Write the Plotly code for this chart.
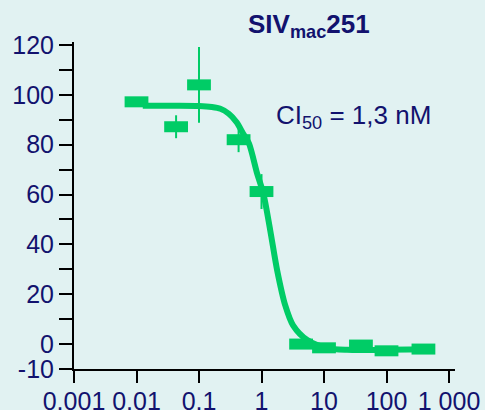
import plotly.graph_objects as go

# Measured data points (concentration nM, % infection)
conc = [0.01, 0.043, 0.1, 0.43, 1.0, 4.3, 10, 39, 100, 390]
resp = [97.2, 87.2, 104.0, 82.0, 61.2, 0.0, -1.5, -0.4, -2.7, -2.0]
err = [0, 4.6, 15.2, 5.0, 7.0, 0, 0, 0, 0, 0]

# Fitted curve
curve_conc = [0.0126, 0.04, 0.1, 0.16, 0.22, 0.30, 0.40, 0.51, 0.63, 0.85,
              1.07, 1.38, 1.78, 2.4, 3.2, 5.4, 11.2, 23.4, 100, 525]
curve_resp = [95.6, 95.6, 95.5, 95.1, 94.4, 92.4, 89.0, 84.4, 80.5, 68.5,
              60.4, 45.6, 29.6, 15.5, 7.5, 1.6, -1.6, -2.3, -2.3, -2.1]

x_tickvals = [0.001, 0.01, 0.1, 1, 10, 100, 1000]
x_ticktext = ["0,001", "0,01", "0,1", "1", "10", "100", "1 000"]
y_tickvals = [-10, 0, 20, 40, 60, 80, 100, 120]
y_ticktext = ["-10", "0", "20", "40", "60", "80", "100", "120"]
y_minor = [10, 30, 50, 70, 90, 110]

title_text = "<b>SIV<sub>mac</sub>251</b>"
ci_text = "CI<sub>50</sub> = 1,3 nM"

GREEN = "#00cc66"
NAVY = "#12126e"
BG = "#e1f2f2"
FONT = "Liberation Sans, Arial, sans-serif"

fig = go.Figure()
fig.add_trace(go.Scatter(
    x=curve_conc, y=curve_resp, mode="lines",
    line=dict(color=GREEN, width=6, shape="spline", smoothing=0.8),
    hoverinfo="skip", showlegend=False))
fig.add_trace(go.Scatter(
    x=conc, y=resp, mode="markers",
    marker=dict(symbol="line-ew", size=17, color=GREEN,
                line=dict(color=GREEN, width=11)),
    error_y=dict(type="data", array=err, visible=True, color=GREEN,
                 thickness=2, width=0),
    showlegend=False))

fig.add_annotation(text=title_text, xref="paper", yref="paper",
                   x=(309 - 74) / 381, y=1 + (42 - 25) / 327,
                   showarrow=False, xanchor="center", yanchor="middle",
                   font=dict(family=FONT, size=26, color=NAVY))
fig.add_annotation(text=ci_text, xref="paper", yref="paper",
                   x=(353 - 74) / 381, y=1 - (116 - 42) / 327,
                   showarrow=False, xanchor="center", yanchor="middle",
                   font=dict(family=FONT, size=26, color=NAVY))

fig.update_layout(
    width=485, height=410,
    margin=dict(l=74, r=30, t=42, b=41),
    paper_bgcolor=BG, plot_bgcolor="rgba(0,0,0,0)",
    font=dict(family=FONT, color=NAVY),
    xaxis=dict(type="log", range=[-3, 3.096], tickvals=x_tickvals,
               ticktext=x_ticktext, showgrid=False, zeroline=False,
               showline=True, linecolor="black", linewidth=2,
               ticks="outside", ticklen=12, tickwidth=2, tickcolor="black",
               automargin=False, ticklabelstandoff=-3,
               tickfont=dict(family=FONT, size=25, color=NAVY)),
    yaxis=dict(range=[-10, 121.2], tickvals=y_tickvals, ticktext=y_ticktext,
               showgrid=False, automargin=False,
               zeroline=False, showline=True, linecolor="black", linewidth=2,
               ticks="outside", ticklen=13, tickwidth=2, tickcolor="black",
               tickfont=dict(family=FONT, size=25, color=NAVY),
               minor=dict(tickvals=y_minor, ticks="outside", ticklen=13,
                          tickwidth=2, tickcolor="black", showgrid=False)),
)

page_fix = ("document.body.style.margin='0';"
            "document.body.style.overflow='hidden';"
            "document.body.style.background='" + BG + "';")
fig.write_html("out.html", post_script=page_fix,
               config={"displayModeBar": False, "staticPlot": True})
